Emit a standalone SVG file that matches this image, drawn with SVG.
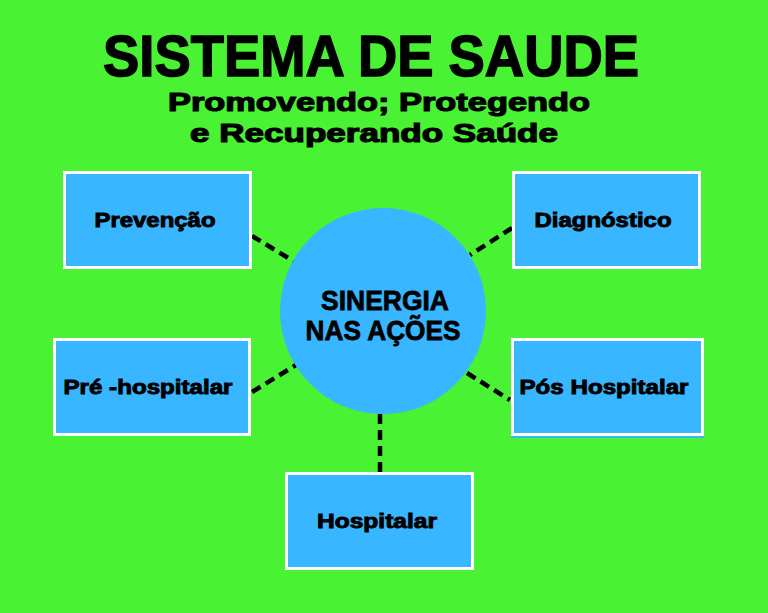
<svg xmlns="http://www.w3.org/2000/svg" width="768" height="613" viewBox="0 0 768 613">
<style>
.box{fill:#38b6ff;stroke:#ffffff;stroke-width:3}
.lbl{font-family:"Liberation Sans",Arial,sans-serif;font-weight:bold;font-size:20px;fill:#000;text-anchor:middle;stroke:#000;stroke-width:0.9}
.con{stroke:#000;stroke-width:4.5;stroke-dasharray:10,6;fill:none}
.title{font-family:"Liberation Sans",Arial,sans-serif;font-weight:bold;fill:#000;stroke:#000}
</style>
<rect width="768" height="613" fill="#4af234"/>
<g id="title">
<text class="title" x="371" y="76" font-size="58" text-anchor="middle" textLength="536" lengthAdjust="spacingAndGlyphs" stroke-width="1.5">SISTEMA DE SAUDE</text>
<text class="title" x="379" y="111" font-size="26" text-anchor="middle" textLength="422" lengthAdjust="spacingAndGlyphs" stroke-width="1.2">Promovendo; Protegendo</text>
<text class="title" x="374" y="142" font-size="26" text-anchor="middle" textLength="368" lengthAdjust="spacingAndGlyphs" stroke-width="1.2">e Recuperando Saúde</text>
</g>
<g id="connectors">
<line class="con" x1="252" y1="236" x2="295" y2="262"/>
<line class="con" x1="512" y1="228" x2="470" y2="255"/>
<line class="con" x1="252" y1="392" x2="296" y2="365"/>
<line class="con" x1="467" y1="373" x2="510" y2="400"/>
<line class="con" x1="380" y1="414" x2="380" y2="472"/>
</g>
<g id="center">
<circle cx="383" cy="311" r="103" fill="#38b6ff"/>
<text class="title" x="385" y="310" font-size="28" text-anchor="middle" textLength="128" lengthAdjust="spacingAndGlyphs" stroke-width="0.8">SINERGIA</text>
<text class="title" x="383" y="340" font-size="28" text-anchor="middle" textLength="155" lengthAdjust="spacingAndGlyphs" stroke-width="0.8">NAS AÇÕES</text>
</g>
<g id="prevencao">
<rect class="box" x="64.5" y="172.5" width="186" height="95"/>
<text class="lbl" x="155" y="227" textLength="121" lengthAdjust="spacingAndGlyphs">Prevenção</text>
</g>
<g id="diagnostico">
<rect class="box" x="513.5" y="172.5" width="186" height="95"/>
<text class="lbl" x="603" y="227" textLength="137" lengthAdjust="spacingAndGlyphs">Diagnóstico</text>
</g>
<g id="pre-hospitalar">
<rect class="box" x="54.5" y="339.5" width="195" height="95"/>
<text class="lbl" x="148" y="394" textLength="169" lengthAdjust="spacingAndGlyphs">Pré -hospitalar</text>
</g>
<g id="pos-hospitalar">
<rect x="511" y="340" width="193" height="98" fill="#38b6ff"/>
<rect class="box" x="512.5" y="339.5" width="190" height="95"/>
<text class="lbl" x="604" y="394" textLength="169" lengthAdjust="spacingAndGlyphs">Pós Hospitalar</text>
</g>
<g id="hospitalar">
<rect class="box" x="286.5" y="473.5" width="186" height="95"/>
<text class="lbl" x="377" y="528" textLength="120" lengthAdjust="spacingAndGlyphs">Hospitalar</text>
</g>
</svg>
